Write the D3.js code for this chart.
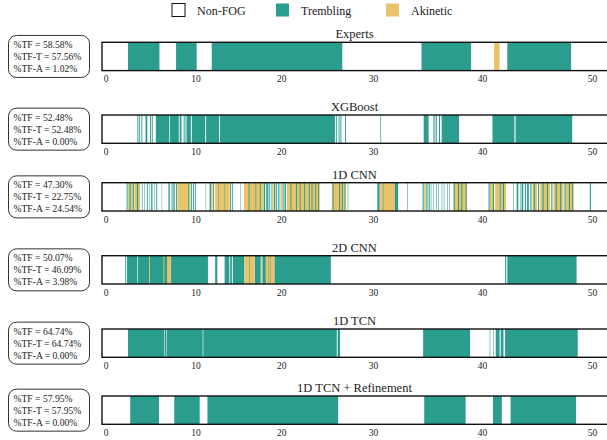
<!DOCTYPE html>
<html>
<head>
<meta charset="utf-8">
<script src="https://cdn.jsdelivr.net/npm/d3@7"></script>
<style>
  body { margin: 0; background: #fff; }
  text { font-family: "Liberation Serif", "DejaVu Serif", serif; fill: #222; }
</style>
</head>
<body>
<div id="main"></div>
<script>
// panel names and summary numbers
var panelNames = ["Experts", "XGBoost", "1D CNN", "2D CNN", "1D TCN", "1D TCN + Refinement"];
var tfAll = ["58.58%", "52.48%", "47.30%", "50.07%", "64.74%", "57.95%"];
var tfTremb = ["57.56%", "52.48%", "22.75%", "46.09%", "64.74%", "57.95%"];
var tfAkin = ["1.02%", "0.00%", "24.54%", "3.98%", "0.00%", "0.00%"];

var legendLabels = ["Non-FOG", "Trembling", "Akinetic"];
var tickValues = [0, 10, 20, 30, 40, 50];

// segments: [start, end, class] drawn in order (T = trembling, A = akinetic)
var experts = [
    [2.5, 6.0, "T"], [7.85, 10.15, "T"], [11.9, 26.65, "T"], [34.45, 39.0, "T"],
    [41.1, 41.6, "A"], [42.3, 48.1, "T"]
];

var xgboost = [
    [3.55, 3.65, "T"], [3.75, 3.85, "T"], [4.0, 4.1, "T"], [4.45, 4.65, "T"], [4.95, 5.05, "T"],
    [5.15, 5.25, "T"], [5.6, 7.1, "T"], [7.18, 8.15, "T"], [8.25, 8.45, "T"], [8.7, 8.8, "T"],
    [8.9, 9.0, "T"], [9.05, 9.5, "T"], [9.6, 11.15, "T"], [11.25, 12.75, "T"], [12.85, 25.85, "T"],
    [25.95, 26.05, "T"], [26.25, 26.35, "T"], [26.45, 26.55, "T"], [26.95, 27.05, "T"],
    [30.68, 30.74, "T"], [34.65, 35.1, "T"], [35.55, 35.65, "T"], [35.75, 35.85, "T"],
    [36.05, 36.15, "T"], [36.3, 37.9, "T"], [40.95, 42.95, "T"], [43.05, 48.2, "T"]
];

var cnn1d = [
    [2.45, 2.6, "A"], [2.8, 3.05, "A"], [3.2, 3.5, "A"], [3.65, 3.85, "A"],
    [8.0, 9.2, "A"], [9.3, 9.45, "A"], [11.8, 12.0, "A"], [12.3, 14.0, "A"],
    [15.65, 17.9, "A"], [18.9, 19.1, "A"], [19.9, 20.1, "A"], [20.6, 24.2, "A"], [25.5, 27.0, "A"],
    [30.6, 32.0, "A"], [34.7, 34.85, "A"], [37.4, 38.6, "A"], [40.7, 41.0, "A"], [41.2, 41.6, "A"],
    [41.7, 42.2, "A"], [44.6, 45.0, "A"], [45.3, 46.2, "A"], [46.5, 47.4, "A"], [47.6, 48.3, "A"],
    [2.35, 2.45, "T"], [2.65, 2.8, "T"], [3.05, 3.15, "T"], [3.5, 3.65, "T"],
    [4.05, 4.12, "T"], [4.3, 4.36, "T"], [4.6, 4.7, "T"], [4.85, 4.9, "T"], [5.05, 5.15, "T"],
    [5.2, 5.25, "T"], [5.45, 5.5, "T"], [5.65, 5.75, "T"],
    [6.25, 6.3, "T"], [7.0, 7.15, "T"], [7.35, 7.45, "T"], [7.55, 7.7, "T"], [7.85, 7.95, "T"],
    [9.2, 9.3, "T"], [9.5, 9.6, "T"], [9.75, 9.85, "T"], [9.95, 10.05, "T"], [11.2, 11.25, "T"],
    [11.65, 11.8, "T"], [12.05, 12.15, "T"], [12.7, 12.75, "T"], [13.4, 13.45, "T"],
    [14.05, 14.15, "T"], [14.25, 14.35, "T"], [15.2, 15.25, "T"],
    [16.2, 16.3, "T"], [17.0, 17.08, "T"], [17.5, 17.6, "T"],
    [17.95, 18.1, "T"], [18.2, 18.3, "T"], [18.35, 18.5, "T"], [18.6, 18.7, "T"], [18.8, 18.85, "T"],
    [19.15, 19.3, "T"], [19.4, 19.5, "T"], [19.6, 19.7, "T"], [19.8, 19.85, "T"], [20.15, 20.25, "T"],
    [20.35, 20.5, "T"],
    [21.0, 21.1, "T"], [21.6, 21.7, "T"], [22.0, 22.1, "T"], [22.5, 22.6, "T"], [23.0, 23.1, "T"],
    [23.3, 23.4, "T"], [23.7, 23.8, "T"], [24.0, 24.1, "T"],
    [25.6, 25.7, "T"], [26.3, 26.4, "T"], [26.6, 26.7, "T"], [26.9, 27.0, "T"], [27.25, 27.3, "T"],
    [30.4, 30.6, "T"], [30.9, 30.95, "T"], [32.0, 32.3, "T"], [33.15, 33.2, "T"],
    [34.55, 34.65, "T"], [34.9, 35.0, "T"], [35.1, 35.2, "T"], [35.3, 35.35, "T"],
    [35.5, 35.55, "T"], [35.8, 35.85, "T"], [36.0, 36.05, "T"], [36.3, 36.35, "T"], [36.5, 36.55, "T"],
    [36.8, 36.85, "T"], [37.0, 37.05, "T"],
    [37.4, 37.5, "T"], [37.8, 37.9, "T"], [38.1, 38.2, "T"], [38.5, 38.6, "T"],
    [40.6, 40.7, "T"], [41.0, 41.1, "T"], [41.6, 41.7, "T"], [41.9, 42.0, "T"], [42.85, 42.9, "T"],
    [43.15, 43.3, "T"], [43.45, 43.5, "T"], [43.6, 43.75, "T"], [43.9, 44.0, "T"], [44.1, 44.25, "T"],
    [44.4, 44.5, "T"], [44.7, 44.8, "T"], [45.1, 45.2, "T"], [45.5, 45.6, "T"], [45.9, 46.0, "T"],
    [46.3, 46.4, "T"], [46.7, 46.8, "T"], [47.1, 47.2, "T"], [47.5, 47.6, "T"], [47.9, 48.0, "T"],
    [48.2, 48.3, "T"], [49.8, 49.9, "T"]
];

var cnn2d = [
    [2.2, 2.3, "T"], [2.4, 3.55, "T"], [3.62, 11.46, "T"], [12.3, 12.55, "T"],
    [13.4, 13.95, "T"], [14.05, 14.25, "T"], [14.35, 15.7, "T"], [16.9, 17.6, "T"],
    [17.8, 18.2, "T"], [19.2, 25.4, "T"], [42.1, 42.2, "T"], [42.3, 48.6, "T"],
    [4.85, 4.95, "A"], [6.45, 6.55, "A"], [6.85, 7.3, "A"], [15.7, 16.9, "A"],
    [17.65, 17.75, "A"], [18.2, 19.2, "A"], [16.25, 16.3, "T"], [18.45, 18.5, "T"], [18.75, 18.8, "T"]
];

var tcn = [
    [2.5, 6.55, "T"], [6.6, 6.75, "T"], [6.8, 10.85, "T"], [10.92, 26.05, "T"], [26.15, 26.4, "T"],
    [34.6, 38.9, "T"], [40.7, 40.75, "T"], [41.0, 41.05, "T"], [41.25, 41.6, "T"], [41.7, 41.95, "T"],
    [42.1, 48.7, "T"]
];

var refined = [
    [2.75, 5.95, "T"], [7.65, 10.5, "T"], [11.4, 26.2, "T"], [34.7, 38.5, "T"],
    [41.0, 41.8, "T"], [42.6, 48.55, "T"]
];

var panelSegments = [experts, xgboost, cnn1d, cnn2d, tcn, refined];

var ctx = {
    w: 607,
    h: 440,
    stripLeft: 102,
    stripH: 28.3,
    tops: [42.3, 115, 182.7, 255.7, 329, 396],
    colors: { T: "#2a9d8f", A: "#e9c46a" },
    legendX: [172, 276, 386],
};

var createViz = function () {
    var svg = d3.select("#main").append("svg")
        .attr("width", ctx.w)
        .attr("height", ctx.h);

    var x = d3.scaleLinear()
        .domain([-0.4, 0, 10, 20, 30, 40, 50, 54])
        .range([ctx.stripLeft, 105.5, 195.4, 281.3, 373, 482, 592, 636]);

    // legend
    var leg = svg.append("g");
    legendLabels.forEach(function (lab, i) {
        leg.append("rect")
            .attr("x", ctx.legendX[i]).attr("y", 3.5)
            .attr("width", 13).attr("height", 13)
            .attr("fill", i === 0 ? "#fff" : (i === 1 ? ctx.colors.T : ctx.colors.A))
            .attr("stroke", i === 0 ? "#111" : "none")
            .attr("stroke-width", 1);
        leg.append("text")
            .attr("x", ctx.legendX[i] + 25).attr("y", 14.5)
            .style("font-size", "12px")
            .text(lab);
    });

    panelNames.forEach(function (name, i) {
        var top = ctx.tops[i];
        var g = svg.append("g").attr("transform", "translate(0," + top + ")");

        g.selectAll("rect.seg")
            .data(panelSegments[i])
            .enter()
            .append("rect")
            .attr("class", "seg")
            .attr("x", function (d) { return x(d[0]); })
            .attr("width", function (d) { return x(d[1]) - x(d[0]); })
            .attr("y", 0)
            .attr("height", ctx.stripH)
            .attr("fill", function (d) { return ctx.colors[d[2]]; });

        g.append("rect")
            .attr("x", x(-0.4))
            .attr("y", 0)
            .attr("width", x(54) - x(-0.4))
            .attr("height", ctx.stripH)
            .attr("fill", "none")
            .attr("stroke", "#111")
            .attr("stroke-width", 1.4);

        var axis = g.append("g")
            .attr("transform", "translate(0," + ctx.stripH + ")")
            .call(d3.axisBottom(x).tickValues(tickValues).tickSize(0).tickPadding(5));
        axis.select(".domain").remove();
        axis.selectAll("text")
            .style("font-size", "9.5px")
            .style("font-family", "'Liberation Serif', serif")
            .attr("fill", "#222");

        g.append("text")
            .attr("x", (ctx.stripLeft + ctx.w) / 2)
            .attr("y", -4)
            .attr("text-anchor", "middle")
            .style("font-size", "12.5px")
            .text(name);

        // stats box
        var mid = ctx.stripH / 2;
        g.append("rect")
            .attr("x", 8.5).attr("y", mid - 21)
            .attr("width", 81).attr("height", 42)
            .attr("rx", 8).attr("ry", 8)
            .attr("fill", "#fff")
            .attr("stroke", "#333")
            .attr("stroke-width", 1);
        var lines = ["%TF = " + tfAll[i], "%TF-T = " + tfTremb[i], "%TF-A = " + tfAkin[i]];
        lines.forEach(function (t, j) {
            g.append("text")
                .attr("x", 13.5)
                .attr("y", mid - 12 + j * 12 + 3.5)
                .style("font-size", "9.6px")
                .text(t);
        });
    });
};

createViz();
</script>
</body>
</html>
